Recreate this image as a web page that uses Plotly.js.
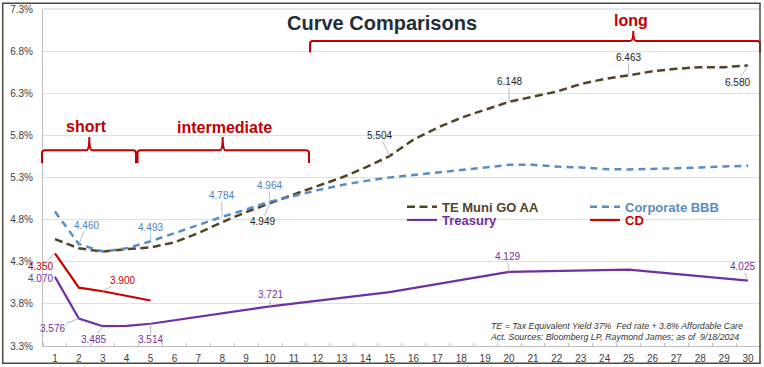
<!DOCTYPE html>
<html>
<head>
<meta charset="utf-8">
<script src="https://cdn.plot.ly/plotly-3.0.1.min.js"></script>
<style>html,body{margin:0;padding:0;background:#fff;}#chart{width:764px;height:367px;}</style>
</head>
<body>
<div id="chart"></div>
<script>
// ---- data (percent) ----
const xTickLabels = ['1','2','3','4','5','6','7','8','9','10','11','12','13','14','15','16','17','18','19','20','21','22','23','24','25','26','27','28','29','30'];
const xTickVals = [1,2,3,4,5,6,7,8,9,10,11,12,13,14,15,16,17,18,19,20,21,22,23,24,25,26,27,28,29,30];
const yTickVals = [3.25,3.75,4.25,4.75,5.25,5.75,6.25,6.75,7.25];
const yTickText = ['3.3%','3.8%','4.3%','4.8%','5.3%','5.8%','6.3%','6.8%','7.3%'];

const muniX = [1,2,3,4,5,6,7,8,9,10,11,12,13,14,15,16,17,18,19,20,21,22,23,24,25,26,27,28,29,30];
const muniY = [4.518,4.41,4.37,4.40,4.42,4.48,4.59,4.72,4.84,4.949,5.05,5.15,5.25,5.37,5.504,5.70,5.84,5.96,6.05,6.148,6.21,6.27,6.36,6.42,6.463,6.51,6.54,6.56,6.56,6.580];

const corpX = [1,2,3,4,5,6,7,8,9,10,11,12,13,14,15,16,17,18,19,20,21,22,23,24,25,26,27,28,29,30];
const corpY = [4.846,4.460,4.371,4.41,4.493,4.59,4.69,4.784,4.87,4.964,5.03,5.10,5.16,5.21,5.25,5.28,5.31,5.34,5.37,5.40,5.40,5.38,5.37,5.35,5.345,5.35,5.36,5.37,5.38,5.39];

const tsyX = [1,2,3,4,5,10,15,20,25,30];
const tsyY = [4.070,3.576,3.485,3.49,3.514,3.721,3.889,4.129,4.157,4.025];

const cdX = [1,2,3,4,5];
const cdY = [4.350,3.943,3.900,3.845,3.790];

const seriesNames = ['TE Muni GO AA','Corporate BBB','Treasury','CD'];

const muniLabelX = [10,15,20,25,30];
const corpLabelX = [2,5,8,10];
const tsyLabelX = [1,2,3,5,10,20,30];
const cdLabelX = [1,3];

// ---- styles / positions ----
const C = {muni:'#514426', corp:'#5a8cc3', tsy:'#7030a0', cd:'#c80000', red:'#c00000'};
const FONT = 'Liberation Sans, Arial, sans-serif';
const labelOffsets = {
  muni:{10:[-8,19],15:[-10,-21],20:[0,-20],25:[0,-18],30:[-11,17]},
  corp:{2:[8,-19],5:[0,-14],8:[-1,-21],10:[-1,-16]},
  tsy:{1:[-14,2],2:[-26,10],3:[-9,13],5:[0,16],10:[0,-12],20:[-2,-15],30:[-6,-14]},
  cd:{1:[-14,13],3:[20,-11]}
};
const labelColors = {muni:'#222222', corp:'#4f82b8', tsy:'#7030a0', cd:'#c00000'};

// plot area pixel geometry
const L=43, R=4, T=9, B=21, W=764, H=367;
const PW = W-L-R, PH = H-T-B;
const px = x => (x-L)/PW;
const py = y => (H-B-y)/PH;

function span(color, txt){ return '<span style="color:'+color+'">'+txt+'</span>'; }

const traces = [
  {x:muniX, y:muniY, type:'scatter', mode:'lines', name:span(C.muni, seriesNames[0]), legend:'legend',
   line:{color:C.muni, width:2.5, dash:'8px,4.5px'}},
  {x:corpX, y:corpY, type:'scatter', mode:'lines', name:span(C.corp, seriesNames[1]), legend:'legend',
   line:{color:C.corp, width:2.5, dash:'7px,5px'}},
  {x:tsyX, y:tsyY, type:'scatter', mode:'lines', name:span(C.tsy, seriesNames[2]), legend:'legend2',
   line:{color:C.tsy, width:2.2}},
  {x:cdX, y:cdY, type:'scatter', mode:'lines', name:span(C.cd, seriesNames[3]), legend:'legend2',
   line:{color:C.cd, width:2.2}}
];

const annotations = [];
function addLabels(key, xs, ys, labelXs){
  labelXs.forEach(lx => {
    const i = xs.indexOf(lx);
    const off = labelOffsets[key][lx];
    annotations.push({
      x: xs[i], y: ys[i], xref:'x', yref:'y',
      text: ys[i].toFixed(3),
      showarrow:true, arrowhead:0, arrowwidth:0.9, arrowcolor:'#a9b6c3', standoff:0,
      ax: off[0], ay: off[1], borderpad:0,
      font:{family:FONT, size:10, color:labelColors[key]}
    });
  });
}
addLabels('muni', muniX, muniY, muniLabelX);
addLabels('corp', corpX, corpY, corpLabelX);
addLabels('tsy', tsyX, tsyY, tsyLabelX);
addLabels('cd', cdX, cdY, cdLabelX);

// bracket labels
[['short',86,126.7],['intermediate',224,127.7],['long',631,20]].forEach(b => {
  annotations.push({x:px(b[1]), y:py(b[2]), xref:'paper', yref:'paper', text:b[0], showarrow:false,
    xanchor:'center', yanchor:'middle', font:{family:FONT, size:16, color:C.red, weight:'bold'}});
});

// footnote
annotations.push({x:px(488), y:py(331), xref:'paper', yref:'paper', xanchor:'left', yanchor:'middle', align:'left',
  showarrow:false,
  text:'<i>TE = Tax Equivalent Yield 37%  Fed rate + 3.8% Affordable Care</i><br><i>Act. Sources: Bloomberg LP, Raymond James; as of  9/18/2024</i>',
  font:{family:FONT, size:8.8, color:'#333333'}});

// curly brace path (pixel coords -> paper)
function brace(x0, x1, xm, yLine, yEnd, yTip){
  const P = (x,y) => px(x).toFixed(5)+','+py(y).toFixed(5);
  return 'M'+P(x0,yEnd)+' L'+P(x0,yLine+3)+' Q'+P(x0,yLine)+' '+P(x0+3,yLine)+
    ' L'+P(xm-3,yLine)+' Q'+P(xm,yLine)+' '+P(xm,yTip)+' Q'+P(xm,yLine)+' '+P(xm+3,yLine)+
    ' L'+P(x1-3,yLine)+' Q'+P(x1,yLine)+' '+P(x1,yLine+3)+' L'+P(x1,yEnd);
}
const shapes = [
  {type:'path', xref:'paper', yref:'paper', path:brace(42,136,89.3,150.3,163.3,137), line:{color:C.red, width:2}},
  {type:'path', xref:'paper', yref:'paper', path:brace(137.5,309,222.7,150.3,163,137), line:{color:C.red, width:2}},
  {type:'path', xref:'paper', yref:'paper', path:brace(310,760,633.3,41,52.5,31), line:{color:C.red, width:2}},
  {type:'line', xref:'paper', yref:'paper', x0:0, x1:1, y0:1, y1:1, line:{color:'#c9cdd1', width:1}},
  {type:'rect', xref:'paper', yref:'paper', x0:px(2.7), x1:px(760), y0:py(363.3), y1:py(3.3), line:{color:'#4a4a3a', width:1.5}}
];

const minorVals = [];
for (let k=0; k<=30; k++) minorVals.push(k+0.5);

const layout = {
  width:W, height:H,
  margin:{l:L, r:R, t:T, b:B, pad:0, autoexpand:false},
  paper_bgcolor:'#ffffff', plot_bgcolor:'#ffffff',
  font:{family:FONT, size:10, color:'#404040'},
  title:{text:'Curve Comparisons', x:0.5, xref:'container', xanchor:'center',
    y:1-23.3/H, yref:'container', yanchor:'middle', automargin:false,
    font:{family:FONT, size:20, color:'#1f2d3d', weight:'bold'}},
  xaxis:{range:[0.5,30.5], tickvals:xTickVals, ticktext:xTickLabels, showgrid:false, zeroline:false,
    showline:true, linecolor:'#bfbfbf', linewidth:1, ticks:'', ticklabelstandoff:3, automargin:false,
    tickfont:{family:FONT, size:10, color:'#404040'},
    minor:{tickvals:minorVals, ticks:'inside', ticklen:3, tickcolor:'#bfbfbf', tickwidth:1, showgrid:false}},
  yaxis:{range:[3.25,7.25], tickvals:yTickVals, ticktext:yTickText, showgrid:true, gridcolor:'#dde1e5', gridwidth:1.2,
    zeroline:false, showline:true, linecolor:'#bfbfbf', linewidth:1, ticks:'', ticklabelstandoff:7, automargin:false,
    tickfont:{family:FONT, size:10, color:'#404040'}},
  showlegend:true,
  legend:{orientation:'h', x:px(402), xanchor:'left', y:py(206.7), yanchor:'middle', bgcolor:'rgba(0,0,0,0)',
    entrywidth:138, itemwidth:30, font:{family:FONT, size:13, weight:'bold'}},
  legend2:{orientation:'h', x:px(402), xanchor:'left', y:py(220), yanchor:'middle', bgcolor:'rgba(0,0,0,0)',
    entrywidth:138, itemwidth:30, font:{family:FONT, size:13, weight:'bold'}},
  annotations:annotations,
  shapes:shapes,
  hovermode:false
};

Plotly.newPlot('chart', traces, layout, {displayModeBar:false, staticPlot:true});
</script>
</body>
</html>
